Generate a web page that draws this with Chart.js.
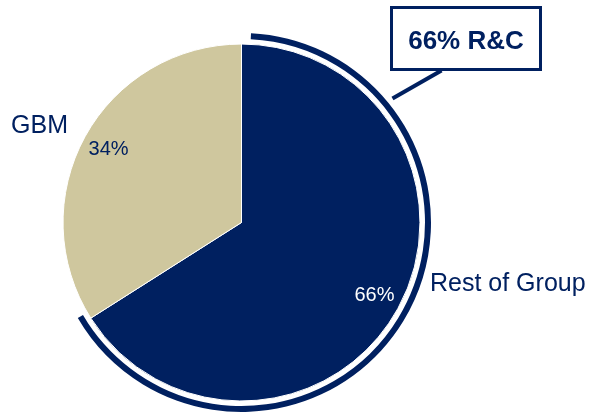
<!DOCTYPE html>
<html>
<head>
<meta charset="utf-8">
<script src="https://cdn.jsdelivr.net/npm/chart.js@4.4.1/dist/chart.umd.min.js"></script>
<style>
html,body{margin:0;padding:0;background:#fff;}
#wrap{width:594px;height:415px;position:relative;}
</style>
</head>
<body>
<div id="wrap"><canvas id="c" width="594" height="415"></canvas></div>
<script>
// ---- data ----
const categories = ['Rest of Group', 'GBM'];
const shares = [66, 34];
const sliceColors = ['#002060', '#CFC79E'];
// highlight ring around R&C share: [lead gap, highlighted arc, remainder]
const ringValues = [0.8, 65.8, 33.4];
const calloutText = '66% R&C';

const NAVY = '#002060';

const labelsPlugin = {
  id: 'customLabels',
  afterDatasetsDraw(chart) {
    const ctx = chart.ctx;
    const meta = chart.getDatasetMeta(2);
    const arcs = meta.data;
    if (!arcs.length) return;
    const cx = arcs[0].x, cy = arcs[0].y, R = arcs[0].outerRadius;
    ctx.save();
    // percentage labels inside slices
    arcs.forEach((a, i) => {
      const mid = (a.startAngle + a.endAngle) / 2;
      const r = R * 0.85;
      const x = cx + Math.cos(mid) * r;
      const y = cy + Math.sin(mid) * r;
      ctx.font = '20px "Liberation Sans", Arial, sans-serif';
      ctx.fillStyle = i === 0 ? '#ffffff' : NAVY;
      ctx.textAlign = 'center';
      ctx.textBaseline = 'middle';
      ctx.fillText(shares[i] + '%', x, y);
    });
    // category labels outside
    ctx.textBaseline = 'alphabetic';
    ctx.font = '25px "Liberation Sans", Arial, sans-serif';
    ctx.fillStyle = NAVY;
    ctx.textAlign = 'left';
    ctx.fillText(categories[0], cx + R + 10, cy + 68);
    ctx.textAlign = 'right';
    ctx.fillText(categories[1], cx - R + 5, cy - 90);

    // callout box
    const bx = cx + 150, by = cy - 215, bw = 149, bh = 62;
    ctx.strokeStyle = NAVY;
    ctx.lineWidth = 3;
    ctx.strokeRect(bx, by, bw, bh);
    ctx.font = 'bold 26px "Liberation Sans", Arial, sans-serif';
    ctx.textAlign = 'center';
    ctx.textBaseline = 'alphabetic';
    ctx.fillText(calloutText, bx + bw / 2, by + 41);
    // connector
    ctx.lineWidth = 4;
    ctx.beginPath();
    ctx.moveTo(bx + 50, by + bh + 1);
    ctx.lineTo(cx + 151, cy - 124);
    ctx.stroke();
    ctx.restore();
  }
};

new Chart(document.getElementById('c'), {
  type: 'doughnut',
  data: {
    labels: categories,
    datasets: [
      {
        data: ringValues,
        backgroundColor: ['rgba(0,0,0,0)', NAVY, 'rgba(0,0,0,0)'],
        borderWidth: 0,
        weight: 6
      },
      {
        data: [100],
        backgroundColor: ['rgba(0,0,0,0)'],
        borderWidth: 0,
        weight: 5
      },
      {
        data: shares,
        backgroundColor: sliceColors,
        borderColor: '#ffffff',
        borderWidth: 1,
        weight: 178
      }
    ]
  },
  options: {
    responsive: false,
    animation: false,
    events: [],
    cutout: 0,
    rotation: 0,
    layout: { padding: { left: 52, top: 33, right: 163, bottom: 3 } },
    plugins: { legend: { display: false }, tooltip: { enabled: false } }
  },
  plugins: [labelsPlugin]
});
</script>
</body>
</html>
